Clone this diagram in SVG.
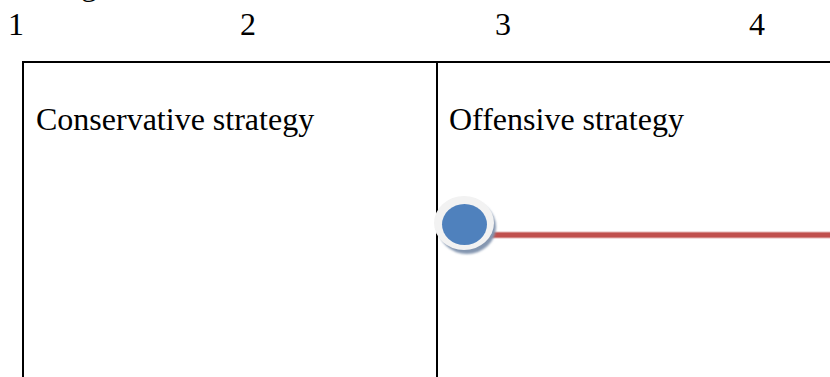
<svg xmlns="http://www.w3.org/2000/svg" width="830" height="377" viewBox="0 0 830 377">
<style>
text{font-family:"Liberation Serif","Times New Roman",serif;font-size:32px;fill:#000}
.frame{fill:none;stroke:#000;stroke-width:2}
</style>
<defs>
<filter id="sh" x="-30%" y="-30%" width="160%" height="160%">
<feGaussianBlur stdDeviation="1"/>
</filter>
</defs>
<rect width="830" height="377" fill="#fff"/>
<text x="81" y="-5">g</text>
<g id="axis">
<text x="8" y="35">1</text>
<text x="240" y="35">2</text>
<text x="495" y="35">3</text>
<text x="749" y="35">4</text>
</g>
<g id="frame">
<path class="frame" d="M23,390 V62 H832 M437,62 V390"/>
</g>
<g id="conservative">
<text x="36" y="130">Conservative strategy</text>
</g>
<g id="offensive">
<text x="449" y="130">Offensive strategy</text>
</g>
<g id="connectors">
<line x1="480" y1="235" x2="832" y2="235" stroke="#E6B9B8" stroke-width="7"/>
<line x1="480" y1="235" x2="832" y2="235" stroke="#C0504D" stroke-width="5"/>
</g>
<g id="marker">
<ellipse cx="467" cy="227" rx="29" ry="27" fill="#8496B0" filter="url(#sh)"/>
<ellipse cx="464" cy="223" rx="30" ry="27" fill="#F2F2F2"/>
<ellipse cx="464.5" cy="224.5" rx="22.5" ry="20.5" fill="#4F81BD"/>
</g>
</svg>
